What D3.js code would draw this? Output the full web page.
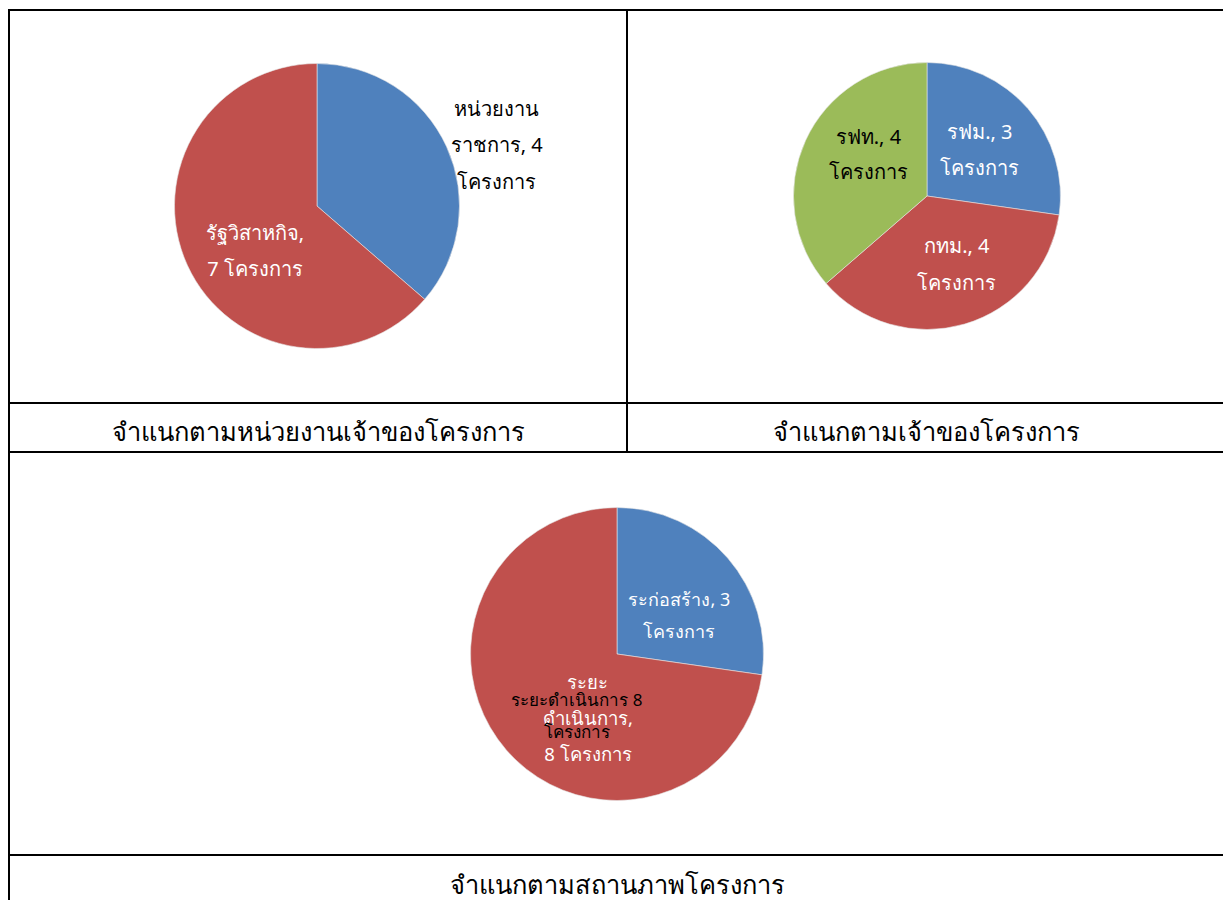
<!DOCTYPE html>
<html>
<head>
<meta charset="utf-8">
<script src="https://cdn.jsdelivr.net/npm/d3@7"></script>
<style>
  body { margin: 0; background: #fff; }
  text { font-family: "Noto Sans", "DejaVu Sans", sans-serif; }
</style>
</head>
<body>
<div id="chart"></div>
<script>
// data for the three pies
var agencyNames = ["หน่วยงานราชการ", "รัฐวิสาหกิจ"];
var agencyValues = [4, 7];
var agencyLabels = [["หน่วยงาน", "ราชการ, 4", "โครงการ"], ["รัฐวิสาหกิจ,", "7 โครงการ"]];

var ownerNames = ["รฟม.", "กทม.", "รฟท."];
var ownerValues = [3, 4, 4];
var ownerLabels = [["รฟม., 3", "โครงการ"], ["กทม., 4", "โครงการ"], ["รฟท., 4", "โครงการ"]];

var statusNames = ["ระก่อสร้าง", "ระยะดำเนินการ"];
var statusValues = [3, 8];
var statusLabels = [["ระก่อสร้าง, 3", "โครงการ"], ["ระยะ", "ดำเนินการ,", "8 โครงการ"]];
var statusExtraLabel = ["ระยะดำเนินการ 8", "โครงการ"];

var captions = ["จำแนกตามหน่วยงานเจ้าของโครงการ", "จำแนกตามเจ้าของโครงการ", "จำแนกตามสถานภาพโครงการ"];

var colors = ["#4F81BD", "#C0504D", "#9BBB59"];

var svg = d3.select("#chart")
    .append("svg")
    .attr("width", 1223)
    .attr("height", 900);

// table grid
var grid = svg.append("g").attr("stroke", "#000").attr("stroke-width", 2);
[10, 403, 452, 855].forEach(function(y) {
    grid.append("line").attr("x1", 9).attr("x2", 1223).attr("y1", y).attr("y2", y);
});
grid.append("line").attr("x1", 9).attr("x2", 9).attr("y1", 9).attr("y2", 900);
grid.append("line").attr("x1", 627).attr("x2", 627).attr("y1", 10).attr("y2", 452);

// opts: radial factor, nudge, colour, font size, line gap for each label
function drawPie(cx, cy, r, values, labels, opts) {
    var g = svg.append("g").attr("transform", "translate(" + cx + "," + cy + ")");
    var pie = d3.pie().sort(null).value(function(d) { return d; });
    var arc = d3.arc().innerRadius(0).outerRadius(r);
    var arcs = pie(values);

    g.selectAll("path")
        .data(arcs)
        .enter()
        .append("path")
        .attr("d", arc)
        .attr("fill", function(d, i) { return colors[i]; })
        .attr("stroke", "#e6e6e6")
        .attr("stroke-width", 0.6);

    arcs.forEach(function(a, i) {
        var o = opts[i];
        var mid = (a.startAngle + a.endAngle) / 2;
        var x = Math.sin(mid) * r * o.k + o.dx;
        var y = -Math.cos(mid) * r * o.k + o.dy;
        var lines = labels[i];
        var t = g.append("text")
            .attr("text-anchor", "middle")
            .attr("font-size", o.size)
            .attr("fill", o.color);
        lines.forEach(function(line, j) {
            t.append("tspan")
                .attr("x", x)
                .attr("y", y + (j - (lines.length - 1) / 2) * o.gap + o.size * 0.35)
                .text(line);
        });
    });
    return g;
}

drawPie(317, 206, 142.5, agencyValues, agencyLabels, [
    {k: 1.333, dx: 7, dy: 18, color: "#000", size: 20, gap: 36.5},
    {k: 0.54, dx: 8, dy: 13, color: "#fff", size: 20, gap: 36}
]);

drawPie(927, 196, 133.5, ownerValues, ownerLabels, [
    {k: 0.524, dx: 0, dy: 0, color: "#fff", size: 20, gap: 36},
    {k: 0.555, dx: 9, dy: -3, color: "#fff", size: 20, gap: 37},
    {k: 0.54, dx: 7, dy: -12, color: "#000", size: 20, gap: 35}
]);

var g3 = drawPie(617, 654, 146.5, statusValues, statusLabels, [
    {k: 0.5, dx: 7, dy: 10, color: "#fff", size: 18, gap: 32},
    {k: 0.48, dx: 24, dy: 18, color: "#fff", size: 18.5, gap: 36}
]);

// overlapping dark label in the status pie (as in the original)
var over = g3.append("text")
    .attr("text-anchor", "middle")
    .attr("font-size", 17)
    .attr("fill", "#000");
statusExtraLabel.forEach(function(line, j) {
    over.append("tspan").attr("x", -40).attr("y", 52 + j * 32).text(line);
});

// captions
var capX = [318, 926, 617];
var capY = [441, 441, 894];
captions.forEach(function(c, i) {
    svg.append("text")
        .attr("x", capX[i])
        .attr("y", capY[i])
        .attr("text-anchor", "middle")
        .attr("font-size", 25.5)
        .attr("fill", "#000")
        .text(c);
});
</script>
</body>
</html>
